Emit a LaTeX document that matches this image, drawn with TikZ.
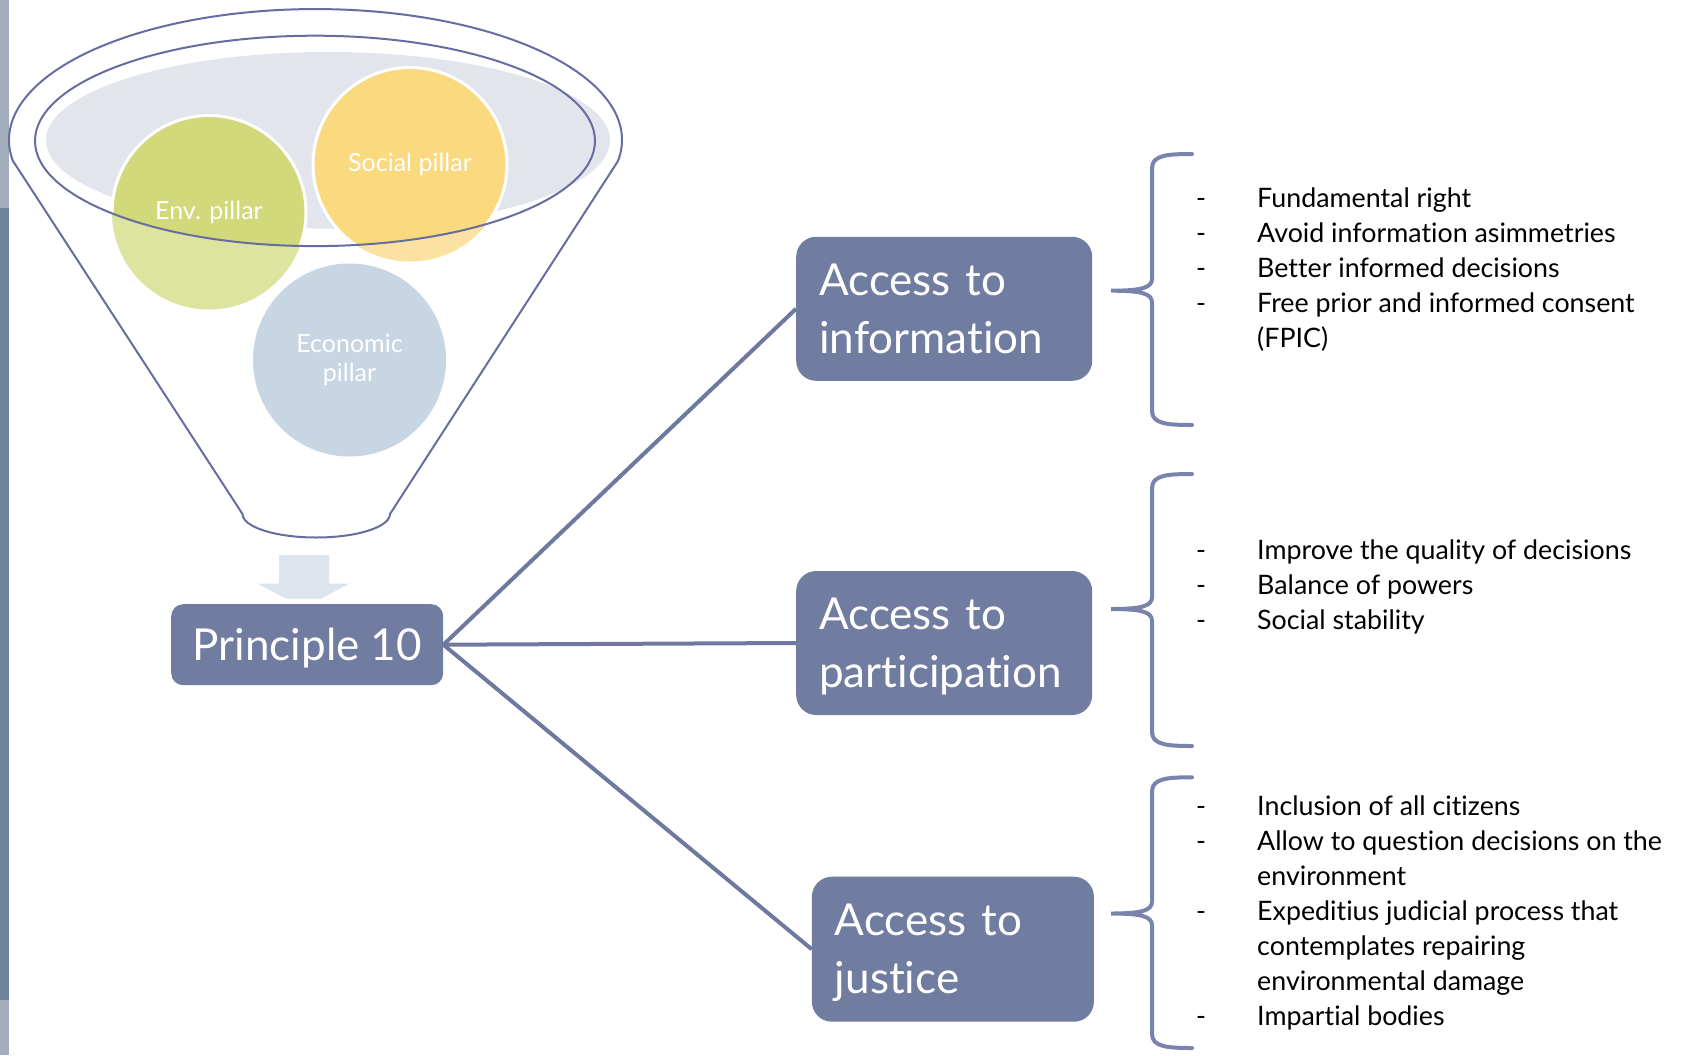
\documentclass[tikz,border=0pt]{standalone}
\usepackage{fontspec}
\setmainfont{Lato}[Ligatures={NoCommon,NoDiscretionary}]
\usepackage{array}
\definecolor{boxc}{HTML}{717CA1}
\definecolor{connc}{HTML}{6F79A0}
\definecolor{bracec}{HTML}{7983AB}
\definecolor{funnelc}{HTML}{676D9F}
\definecolor{grayc}{HTML}{E3E5EC}
\definecolor{envd}{HTML}{D2D97A}
\definecolor{envl}{HTML}{DDE4A0}
\definecolor{socd}{HTML}{FAD97F}
\definecolor{socl}{HTML}{FBE2A2}
\definecolor{ecoc}{HTML}{C8D5E2}
\definecolor{arrowc}{HTML}{DDE4EE}
\definecolor{stripl}{HTML}{A3AEBC}
\definecolor{stripd}{HTML}{6F8499}
\newcommand\mybrace[3]{%
  \draw[bracestyle] (1192,#1) .. controls (1168,#1) and (1152,{#1+1}) .. (1152,{#1+14})
    -- (1152,{#2-12}) .. controls (1152,{#2-3}) and (1142,#2) .. (1111,#2)
    .. controls (1142,#2) and (1152,{#2+3}) .. (1152,{#2+12})
    -- (1152,{#3-14}) .. controls (1152,{#3-1}) and (1168,#3) .. (1192,#3);}
\begin{document}
\begin{tikzpicture}[x=1pt,y=-1pt,
  accbox/.style={fill=boxc, rounded corners=20pt, text=white,
    font=\fontsize{44}{58}\selectfont, align=left, inner xsep=23pt,
    inner ysep=0pt, text depth=58pt, minimum height=144pt},
  pbox/.style={fill=boxc, rounded corners=12pt, text=white,
    font=\fontsize{44}{58}\selectfont, inner sep=0pt, text depth=0pt,
    minimum width=272pt, minimum height=81pt},
  pill/.style={circle, minimum size=194pt, inner sep=0pt, text=white,
    align=center, font=\fontsize{25}{28.6}\selectfont},
  conn/.style={draw=connc, line width=4pt},
  bracestyle/.style={draw=bracec, line width=4pt, line cap=round},
  funnel/.style={draw=funnelc, line width=2pt},
  listtext/.style={anchor=base west, inner sep=0pt, text=black,
    font=\fontsize{26.8}{35}\selectfont}
]
\useasboundingbox (0,0) rectangle (1689,1055);
\fill[white] (0,0) rectangle (1689,1055);
% slide edge strip
\fill[stripl] (0,0) rectangle (9,208);
\fill[stripd] (0,208) rectangle (9,1000);
\fill[stripl] (0,1000) rectangle (9,1055);
% funnel content
\fill[grayc] (328,140.3) ellipse (282 and 88.3);
\fill[envl] (209,212.5) circle (97);
\fill[socl] (410,164.5) circle (97);
\fill[ecoc] (349.5,360) circle (96.5);
\begin{scope}
  \clip (315,140.9) ellipse (280 and 105.2);
  \path[fill=envd, draw=white, line width=3pt] (209,212.5) circle (97);
  \path[fill=socd, draw=white, line width=3pt] (410,164.5) circle (97);
\end{scope}
\node[pill] (env) at (209,212.5) {Env. pillar};
\node[pill] (soc) at (410,164.5) {Social pillar};
\node[pill] (eco) at (349.5,360) {Economic\\pillar};
\draw[funnel] (315,140.9) ellipse (280 and 105.2);
\draw[funnel] (13,161) -- (242.5,514)
  arc[start angle=180, end angle=0, x radius=73.75, y radius=23.5]
  -- (618,161)
  arc[start angle=9.2, end angle=-189.2, x radius=306.5, y radius=131] -- cycle;
% down arrow
\fill[arrowc] (279,555) -- (329,555) -- (329,583.6) -- (349.6,583.6) -- (321,598.6)
  -- (286,598.6) -- (257.5,583.6) -- (279,583.6) -- cycle;
% boxes
\node[pbox] (p10) at (307.2,644.7) {Principle 10};
\node[accbox, text width=250pt] (info) at (944.2,308.8) {Access to\\information};
\node[accbox, text width=250pt] (part) at (944.2,643) {Access to\\participation};
\node[accbox, text width=236pt, minimum height=145pt] (just) at (952.9,949.2) {Access to\\justice};
% connectors
\draw[conn] (p10.east) -- (info.west);
\draw[conn] (p10.east) -- (part.west);
\draw[conn] (p10.east) -- (just.west);
% braces
\mybrace{154}{290.7}{425}
\mybrace{474}{609}{746}
\mybrace{777.3}{913.5}{1048}
% lists
\node[listtext] (l1) at (1196,207) {\begin{tabular}[t]{@{}p{61pt}@{}l@{}}
- & Fundamental right\\
- & Avoid information asimmetries\\
- & Better informed decisions\\
- & Free prior and informed consent\\
  & (FPIC)
\end{tabular}};
\node[listtext] (l2) at (1196,559.3) {\begin{tabular}[t]{@{}p{61pt}@{}l@{}}
- & Improve the quality of decisions\\
- & Balance of powers\\
- & Social stability
\end{tabular}};
\node[listtext] (l3) at (1196,815) {\begin{tabular}[t]{@{}p{61pt}@{}l@{}}
- & Inclusion of all citizens\\
- & Allow to question decisions on the\\
  & environment\\
- & Expeditius judicial process that\\
  & contemplates repairing\\
  & environmental damage\\
- & Impartial bodies
\end{tabular}};
\end{tikzpicture}
\end{document}
